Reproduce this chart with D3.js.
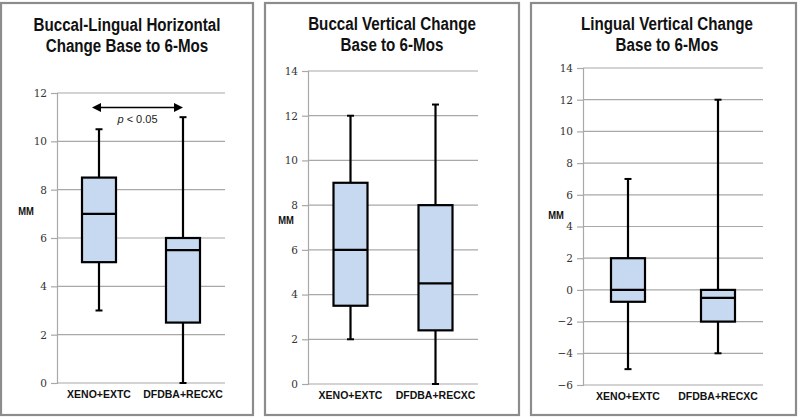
<!DOCTYPE html>
<html><head><meta charset="utf-8">
<script src="https://cdn.jsdelivr.net/npm/d3@7"></script>
<style>
html,body{margin:0;padding:0;background:#fff;}
svg{display:block;}
</style></head>
<body>
<svg id="chart" width="800" height="417"></svg>
<script>
// ---- data ----
const categories = ["XENO+EXTC", "DFDBA+RECXC"];

const titles1 = ["Buccal-Lingual Horizontal", "Change Base to 6-Mos"];
const titles2 = ["Buccal Vertical Change", "Base to 6-Mos"];
const titles3 = ["Lingual Vertical Change", "Base to 6-Mos"];

const yTicks1 = [0, 2, 4, 6, 8, 10, 12];
const yTicks2 = [0, 2, 4, 6, 8, 10, 12, 14];
const yTicks3 = [-6, -4, -2, 0, 2, 4, 6, 8, 10, 12, 14];

// box stats per category: [XENO+EXTC, DFDBA+RECXC]
const min1 = [3, 0],    q1_1 = [5, 2.5],   med1 = [7, 5.5],  q3_1 = [8.5, 6], max1 = [10.5, 11];
const min2 = [2, 0],    q1_2 = [3.5, 2.4], med2 = [6, 4.5],  q3_2 = [9, 8],   max2 = [12, 12.5];
const min3 = [-5, -4],  q1_3 = [-0.75, -2], med3 = [0, -0.5], q3_3 = [2, 0],   max3 = [7, 12];

const sigLabel = "p < 0.05";
const sigValue = 11.4;
const yLabel = "MM";

// ---- layout ----
const panels = [
  {frame:[1,3,252,412], plot:{x0:57,x1:225,y0:93,y1:383}, ticks:yTicks1, titles:titles1, titleX:127, titleY:[31,52], mmX:26, mmY:215,
   stats:{min:min1,q1:q1_1,med:med1,q3:q3_1,max:max1}, sig:true},
  {frame:[265,3,254,412], plot:{x0:308,x1:478,y0:71,y1:384}, ticks:yTicks2, titles:titles2, titleX:392, titleY:[30,51], mmX:286, mmY:224,
   stats:{min:min2,q1:q1_2,med:med2,q3:q3_2,max:max2}},
  {frame:[531,3,265,412], plot:{x0:583,x1:763,y0:68,y1:385}, ticks:yTicks3, titles:titles3, titleX:667, titleY:[30,51], mmX:556, mmY:219,
   stats:{min:min3,q1:q1_3,med:med3,q3:q3_3,max:max3}}
];

const svg = d3.select("#chart");
const boxW = 34, capW = 7;
const condense = 0.82;

panels.forEach(p => {
  const g = svg.append("g");
  g.append("rect").attr("x", p.frame[0]).attr("y", p.frame[1])
    .attr("width", p.frame[2]).attr("height", p.frame[3])
    .attr("fill", "#fff").attr("stroke", "#8c8c8c").attr("stroke-width", 2.2);

  const y = d3.scaleLinear().domain(d3.extent(p.ticks)).range([p.plot.y1, p.plot.y0]);
  const x = d3.scalePoint().domain(categories).range([p.plot.x0, p.plot.x1]).padding(0.5);

  // gridlines
  g.append("g").selectAll("line").data(p.ticks).join("line")
    .attr("x1", p.plot.x0).attr("x2", p.plot.x1)
    .attr("y1", d => y(d)).attr("y2", d => y(d))
    .attr("stroke", "#a8a8a8").attr("stroke-width", 1.2);

  // y axis
  const ax = g.append("g").attr("transform", `translate(${p.plot.x0},0)`)
    .call(d3.axisLeft(y).tickValues(p.ticks).tickSize(6).tickPadding(4).tickFormat(d3.format("d")));
  ax.select(".domain").attr("stroke", "#a8a8a8").attr("stroke-width", 1.2);
  ax.selectAll(".tick line").attr("stroke", "#a8a8a8").attr("stroke-width", 1.2);
  ax.selectAll("text").attr("font-family", "'DejaVu Serif', serif").attr("font-size", 10.5).attr("fill", "#333");

  // x labels
  g.append("g").selectAll("text").data(categories).join("text")
    .attr("x", d => x(d)).attr("y", p.plot.y1 + 15)
    .attr("text-anchor", "middle")
    .attr("font-family", "'Liberation Sans', Arial, sans-serif").attr("font-weight", "bold").attr("font-size", 10.5)
    .attr("fill", "#111").text(d => d);

  // MM label
  g.append("text").attr("transform", `translate(${p.mmX},${p.mmY}) scale(${condense},1)`).attr("text-anchor", "middle")
    .attr("font-family", "'Liberation Sans', Arial, sans-serif").attr("font-weight", "bold").attr("font-size", 11.5)
    .attr("fill", "#111").text(yLabel);

  // titles
  g.append("g").selectAll("text").data(p.titles).join("text")
    .attr("transform", (d, i) => `translate(${p.titleX},${p.titleY[i]}) scale(${condense},1)`).attr("text-anchor", "middle")
    .attr("font-family", "'Liberation Sans', Arial, sans-serif").attr("font-weight", "bold").attr("font-size", 18.5)
    .attr("fill", "#111").text(d => d);

  // boxes
  const s = p.stats;
  const bx = categories.map((c, i) => ({c, min:s.min[i], q1:s.q1[i], med:s.med[i], q3:s.q3[i], max:s.max[i]}));
  const bg = g.append("g").selectAll("g").data(bx).join("g");
  bg.append("line").attr("x1", d => x(d.c)).attr("x2", d => x(d.c))
    .attr("y1", d => y(d.min)).attr("y2", d => y(d.max)).attr("stroke", "#000").attr("stroke-width", 2.2);
  bg.append("line").attr("x1", d => x(d.c) - capW/2).attr("x2", d => x(d.c) + capW/2)
    .attr("y1", d => y(d.min)).attr("y2", d => y(d.min)).attr("stroke", "#000").attr("stroke-width", 2);
  bg.append("line").attr("x1", d => x(d.c) - capW/2).attr("x2", d => x(d.c) + capW/2)
    .attr("y1", d => y(d.max)).attr("y2", d => y(d.max)).attr("stroke", "#000").attr("stroke-width", 2);
  bg.append("rect").attr("x", d => x(d.c) - boxW/2).attr("width", boxW)
    .attr("y", d => y(d.q3)).attr("height", d => y(d.q1) - y(d.q3))
    .attr("fill", "#c6d9f1").attr("stroke", "#000").attr("stroke-width", 2.2);
  bg.append("line").attr("x1", d => x(d.c) - boxW/2).attr("x2", d => x(d.c) + boxW/2)
    .attr("y1", d => y(d.med)).attr("y2", d => y(d.med)).attr("stroke", "#000").attr("stroke-width", 2.2);

  // significance arrow
  if (p.sig) {
    const ya = y(sigValue);
    const xa0 = x(categories[0]) - 7, xa1 = x(categories[1]);
    g.append("line").attr("x1", xa0 + 6).attr("x2", xa1 - 6).attr("y1", ya).attr("y2", ya)
      .attr("stroke", "#000").attr("stroke-width", 1.6);
    g.append("path").attr("d", `M${xa0},${ya} L${xa0 + 9},${ya - 4.5} L${xa0 + 9},${ya + 4.5} Z`).attr("fill", "#000");
    g.append("path").attr("d", `M${xa1},${ya} L${xa1 - 9},${ya - 4.5} L${xa1 - 9},${ya + 4.5} Z`).attr("fill", "#000");
    const t = g.append("text").attr("x", (xa0 + xa1) / 2).attr("y", ya + 15).attr("text-anchor", "middle")
      .attr("font-family", "'Liberation Sans', Arial, sans-serif").attr("font-size", 11).attr("fill", "#222");
    t.append("tspan").attr("font-style", "italic").text(sigLabel.slice(0, 1));
    t.append("tspan").text(sigLabel.slice(1));
  }
});
</script>
</body></html>
